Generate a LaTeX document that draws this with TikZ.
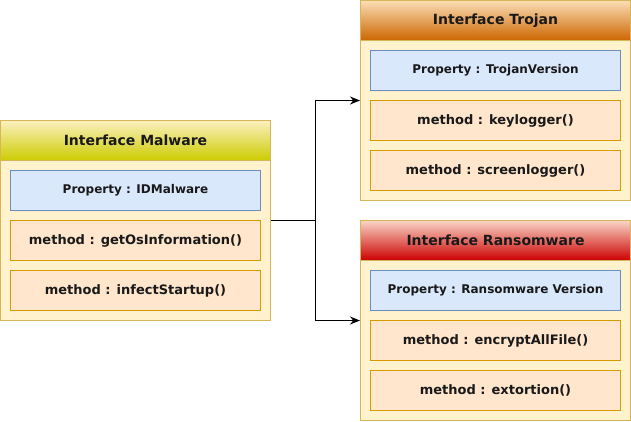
\documentclass[tikz,border=0pt]{standalone}
\usepackage{fontspec}
\setmainfont{DejaVu Sans}
\usetikzlibrary{arrows.meta, positioning}
\definecolor{boxfill}{HTML}{FFF2CC}
\definecolor{boxline}{HTML}{D6B656}
\definecolor{propfill}{HTML}{DAE8FC}
\definecolor{propline}{HTML}{6C8EBF}
\definecolor{methfill}{HTML}{FFE6CC}
\definecolor{methline}{HTML}{D79B00}
\definecolor{malwaretop}{HTML}{FCF0BE}
\definecolor{malwarebot}{HTML}{CCCC00}
\definecolor{trojantop}{HTML}{FBDDB5}
\definecolor{trojanbot}{HTML}{CC6600}
\definecolor{ransomtop}{HTML}{F9D5C6}
\definecolor{ransombot}{HTML}{CC0000}
\tikzstyle{container} = [rectangle, minimum width=270pt, minimum height=200pt, draw=boxline, fill=boxfill]
\tikzstyle{header} = [rectangle, minimum width=270pt, minimum height=40pt, draw=boxline, text centered, text=black!90, font=\fontsize{14}{16}\selectfont\bfseries]
\tikzstyle{property} = [rectangle, minimum width=250pt, minimum height=40pt, text centered, text=black!90, draw=propline, fill=propfill, font=\fontsize{12}{14}\selectfont\bfseries]
\tikzstyle{method} = [rectangle, minimum width=250pt, minimum height=40pt, text centered, text=black!90, draw=methline, fill=methfill, font=\fontsize{13}{15}\selectfont\bfseries]
\tikzstyle{arrow} = [line width=1.2pt, -{Stealth[length=10pt,width=8pt]}]

\begin{document}
\begin{tikzpicture}[x=1pt, y=-1pt, node distance=50pt, line width=1pt]
	\useasboundingbox (0,0) rectangle (631,421);
	
	\node (malware) [container] at (135.5,220.5) {};
	\node (malwareHead) [header, top color=malwaretop, bottom color=malwarebot, anchor=north] at (malware.north) {Interface Malware};
	\node (malwareProp) [property, below of=malwareHead] {Property : IDMalware};
	\node (malwareOs) [method, below of=malwareProp] {method : getOsInformation()};
	\node (malwareStart) [method, below of=malwareOs] {method : infectStartup()};
	
	\node (trojan) [container] at (495.5,100.5) {};
	\node (trojanHead) [header, top color=trojantop, bottom color=trojanbot, anchor=north] at (trojan.north) {Interface Trojan};
	\node (trojanProp) [property, below of=trojanHead] {Property : TrojanVersion};
	\node (trojanKey) [method, below of=trojanProp] {method : keylogger()};
	\node (trojanScreen) [method, below of=trojanKey] {method : screenlogger()};
	
	\node (ransom) [container] at (495.5,320.5) {};
	\node (ransomHead) [header, top color=ransomtop, bottom color=ransombot, anchor=north] at (ransom.north) {Interface Ransomware};
	\node (ransomProp) [property, below of=ransomHead] {Property : Ransomware Version};
	\node (ransomEncrypt) [method, below of=ransomProp] {method : encryptAllFile()};
	\node (ransomExtort) [method, below of=ransomEncrypt] {method : extortion()};
	
	% Arrows
	\coordinate (split) at (315.5,220.5);
	\draw [line width=1.2pt] (malware.east) -- (split);
	\draw [arrow] (split) |- (trojan.west);
	\draw [arrow] (split) |- (ransom.west);
\end{tikzpicture}
\end{document}
